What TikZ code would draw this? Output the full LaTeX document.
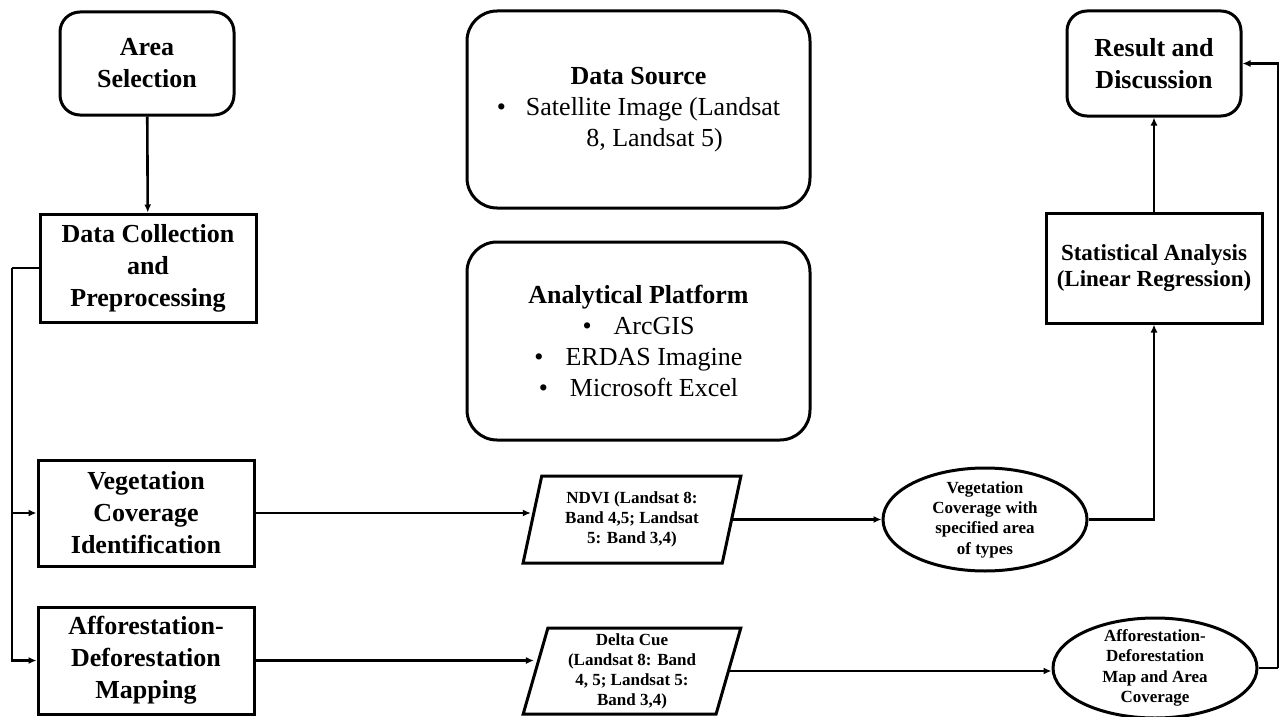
\documentclass[tikz,border=0pt]{standalone}
\usepackage{fontspec}
\setmainfont{Liberation Serif}
\usetikzlibrary{shapes.geometric,arrows.meta}
\begin{document}
\begin{tikzpicture}[x=1pt,y=-1pt,
  mainbox/.style={draw, line width=3pt, align=center, inner sep=0pt,
    font=\fontsize{26}{32}\selectfont\bfseries},
  rbox/.style={mainbox, rounded corners=20pt},
  bigbox/.style={draw, line width=3pt, align=center, inner sep=0pt,
    rounded corners=30pt, minimum width=343, font=\fontsize{26}{31}\selectfont},
  para/.style={draw, line width=3pt, trapezium, trapezium left angle=76,
    trapezium right angle=104, trapezium stretches=true,
    minimum width=218, minimum height=87, inner sep=0pt, align=center,
    font=\fontsize{17}{20}\selectfont\bfseries},
  ell/.style={draw, ellipse, line width=3pt, inner sep=-3pt, align=center,
    minimum width=204, minimum height=103,
    font=\fontsize{17}{20.3}\selectfont\bfseries},
  conn/.style={line width=2.6pt},
  arr/.style={conn, -{Latex[length=8pt,width=7pt]}}]
\useasboundingbox (0,0) rectangle (1280,717);

\node[rbox, minimum width=174, minimum height=103] (area) at (147,63.5) {Area\\Selection};
\node[mainbox, minimum width=216, minimum height=108] (dc) at (148,268) {Data Collection\\and\\Preprocessing};
\node[mainbox, minimum width=216, minimum height=106] (veg) at (146,513) {Vegetation\\Coverage\\Identification};
\node[mainbox, minimum width=216, minimum height=107] (aff) at (146,660.5) {Afforestation-\\Deforestation\\Mapping};

\node[bigbox, minimum height=197] (src) at (638.5,109.5)
  {{\bfseries Data Source}\\
   \textbullet\hspace{20pt}Satellite Image (Landsat\\
   \hspace{32pt}8, Landsat 5)};
\node[bigbox, minimum height=198] (plat) at (638.5,341)
  {{\bfseries Analytical Platform}\\
   \textbullet\hspace{22pt}ArcGIS\\
   \textbullet\hspace{22pt}ERDAS Imagine\\
   \textbullet\hspace{22pt}Microsoft Excel};

\node[para] (ndvi) at (632,519.5) {NDVI (Landsat 8:\\Band 4,5; Landsat\\5: Band 3,4)};
\node[para, minimum height=86] (delta) at (632,671) {Delta Cue\\(Landsat 8: Band\\4, 5; Landsat 5:\\Band 3,4)};

\node[ell] (vegcov) at (985,519.5) {Vegetation\\Coverage with\\specified area\\of types};
\node[ell, minimum height=100] (affmap) at (1155,668) {Afforestation-\\Deforestation\\Map and Area\\Coverage};

\node[mainbox, minimum width=216, minimum height=110,
  font=\fontsize{23}{26}\selectfont\bfseries] (stat) at (1154,268) {Statistical Analysis\\(Linear Regression)};
\node[rbox, minimum width=174, minimum height=105] (res) at (1154,63.5) {Result and\\Discussion};

\coordinate (trunk) at (12,268);
\coordinate (rt) at (1278,670);

\draw[arr] (area) -- (dc);
\draw[conn] (dc.west) -- (trunk);
\draw[arr] (trunk) |- (veg.west);
\draw[arr] (trunk) |- (aff.west);
\draw[arr] (veg.east) -- (veg.east -| ndvi.west);
\draw[arr] (ndvi.east) -- (ndvi.east -| vegcov.west);
\draw[arr] (vegcov.east) -| (stat.south);
\draw[arr] (stat.north) -- (res.south);
\draw[arr] (aff.east) -- (aff.east -| delta.west);
\draw[arr] (delta.east) -- (delta.east -| affmap.west);
\draw[conn] (affmap.east) -- (affmap.east -| rt);
\draw[arr] (affmap.east -| rt) |- (res.east);
\end{tikzpicture}
\end{document}
